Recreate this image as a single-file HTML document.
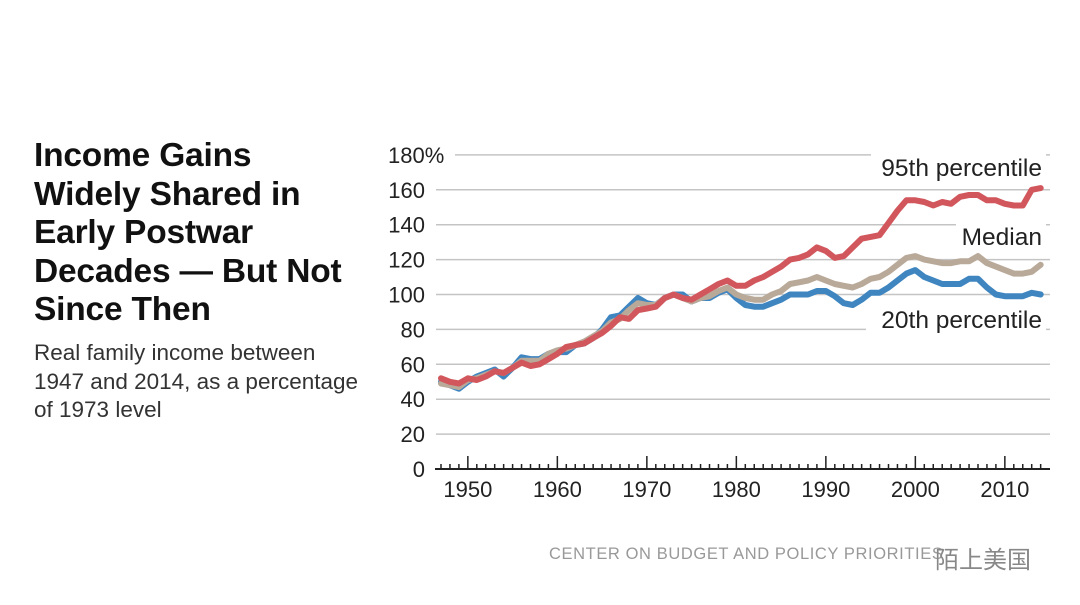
<!DOCTYPE html>
<html><head><meta charset="utf-8"><style>
body{margin:0;background:#fff;font-family:"Liberation Sans","Noto Sans CJK SC",sans-serif;}
#wrap{position:relative;width:1080px;height:605px;overflow:hidden;background:#fff;}
.title{position:absolute;left:34px;top:137px;font-size:33.5px;font-weight:bold;line-height:38.6px;color:#111;letter-spacing:-0.2px;}
.sub{position:absolute;left:34px;top:339px;font-size:22.5px;line-height:28.5px;color:#333;}
.foot{position:absolute;left:549px;top:545px;font-size:16.5px;color:#999;letter-spacing:0.6px;}
.wm{position:absolute;left:935px;top:540px;font-size:24px;color:#888;}
svg{position:absolute;left:0;top:0;}
</style></head><body>
<div id="wrap">
<div class="title">Income Gains<br>Widely Shared in<br>Early Postwar<br>Decades — But Not<br>Since Then</div>
<div class="sub">Real family income between<br>1947 and 2014, as a percentage<br>of 1973 level</div>
<svg id="chart" width="1080" height="605"></svg>
<div class="foot">CENTER ON BUDGET AND POLICY PRIORITIES</div>
<div class="wm">陌上美国</div>
</div>
<script>
const years=[];for(let y=1947;y<=2014;y++)years.push(y);
const p95=[52,50,49,52,51,53,56,55,58,61,59,60,63,66,70,71,72,75,78,82,87,86,91,92,93,98,100,98,97,100,103,106,108,105,105,108,110,113,116,120,121,123,127,125,121,122,127,132,133,134,141,148,154,154,153,151,153,152,156,157,157,154,154,152,151,151,160,161];
const median=[49,48,47,51,52,54,56,55,58,62,62,62,66,68,69,71,73,76,79,84,86,91,95,94,94,98,100,98,96,98,99,102,104,100,98,97,97,100,102,106,107,108,110,108,106,105,104,106,109,110,113,117,121,122,120,119,118,118,119,119,122,118,116,114,112,112,113,117];
const p20=[50,48,46,50,53,55,57,53,58,64,63,63,66,67,67,71,72,75,80,87,88,93,98,95,94,98,100,100,96,98,98,101,103,98,94,93,93,95,97,100,100,100,102,102,99,95,94,97,101,101,104,108,112,114,110,108,106,106,106,109,109,104,100,99,99,99,101,100];
const yTicks=[0,20,40,60,80,100,120,140,160,180];
const xTicks=[1950,1960,1970,1980,1990,2000,2010];
const NS='http://www.w3.org/2000/svg';
const svg=document.getElementById('chart');
const X=y=>441+(y-1947)*8.95;
const Y=v=>469-v*1.745;
function mk(t,a){const e=document.createElementNS(NS,t);for(const k in a)e.setAttribute(k,a[k]);svg.appendChild(e);return e;}
yTicks.forEach(v=>{
  if(v>0){const g=mk('line',{x1:v===180?455:436,x2:1050,y1:Y(v),y2:Y(v),stroke:'#c4c4c4','stroke-width':1.5});
  
  }
  const t=mk('text',{x:v===180?388:425,y:Y(v)+8,'font-size':22,fill:'#222','text-anchor':v===180?'start':'end','font-family':'Liberation Sans, sans-serif'});
  t.textContent=v===180?'180%':String(v);
  
  
});
const ax=mk('line',{x1:435,x2:1050,y1:469,y2:469,stroke:'#222','stroke-width':2});


years.forEach(y=>{const major=y%10===0;const t=mk('line',{x1:X(y),x2:X(y),y1:469,y2:major?456:464,stroke:'#222','stroke-width':1.5});

});
xTicks.forEach(y=>{const t=mk('text',{x:X(y),y:497,'font-size':22,fill:'#222','text-anchor':'middle','font-family':'Liberation Sans, sans-serif'});
t.textContent=String(y);

});
function line(arr,col,name){const d=arr.map((v,i)=>(i?'L':'M')+X(years[i]).toFixed(1)+','+Y(v).toFixed(1)).join('');
const p=mk('path',{d:d,fill:'none',stroke:col,'stroke-width':6,'stroke-linejoin':'round','stroke-linecap':'round'});

}
line(p20,'#3f86c1','line-20th-percentile');
line(median,'#b9a999','line-median');
line(p95,'#d1575d','line-95th-percentile');
function lab(txt,x,y,name){const r=mk('rect',{x:x-6,y:y-24,width:1046-x+6,height:32,fill:'#fff'});


const t=mk('text',{x:1042,y:y,'font-size':24.5,fill:'#222','text-anchor':'end','font-family':'Liberation Sans, sans-serif'});
t.textContent=txt;

}
lab('95th percentile',877,176,'label-95th');
lab('Median',962,245,'label-median');
lab('20th percentile',872,328,'label-20th');
</script>
</body></html>
